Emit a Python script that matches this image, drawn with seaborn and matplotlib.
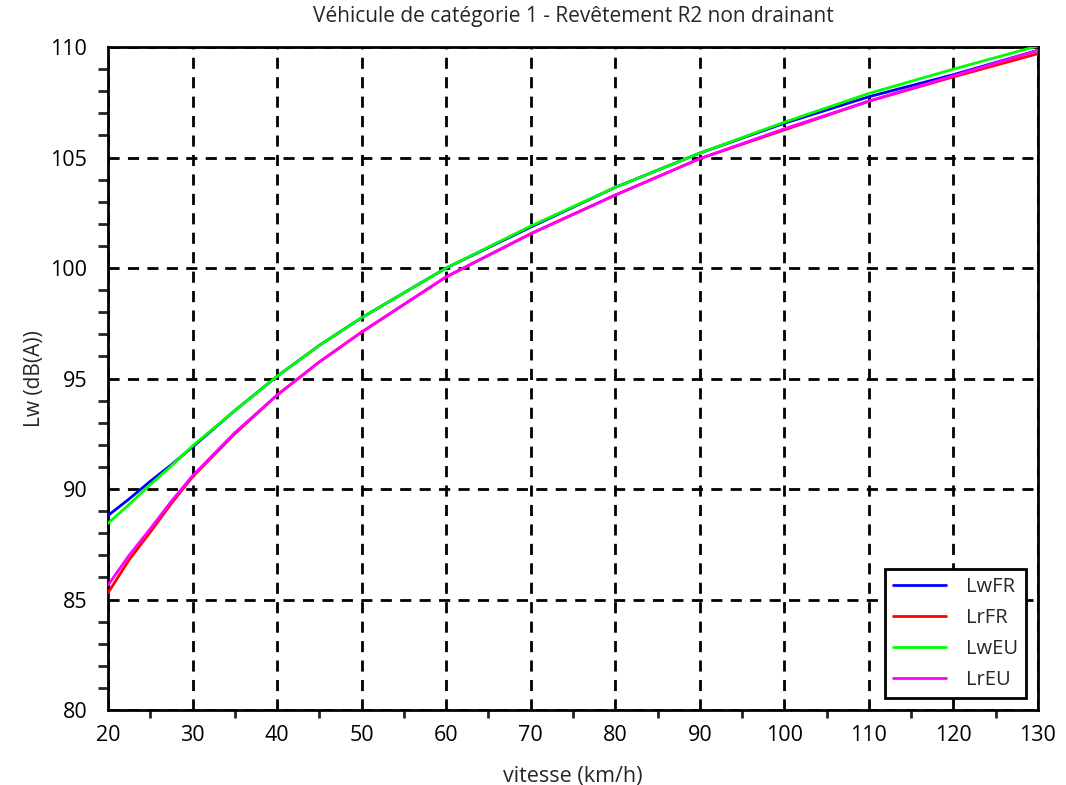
import matplotlib
matplotlib.use("Agg")
import matplotlib.pyplot as plt
from matplotlib.ticker import MultipleLocator
import seaborn as sns
import pandas as pd

# vitesse (km/h)
vitesse = [20, 22.5, 25, 27.5, 30, 35, 40, 45, 50, 60, 70, 80, 90, 100, 110, 120, 130]

# niveaux (dB(A))
lw_fr = [88.8, 89.55, 90.35, 91.1, 91.9, 93.55, 95.1, 96.5, 97.75, 100.0, 101.85, 103.65, 105.2, 106.55, 107.75, 108.75, 109.85]
lr_fr = [85.3, 86.8, 88.05, 89.35, 90.55, 92.5, 94.25, 95.75, 97.1, 99.6, 101.55, 103.3, 104.95, 106.25, 107.55, 108.65, 109.7]
lw_eu = [88.45, 89.3, 90.2, 91.05, 91.95, 93.55, 95.1, 96.5, 97.75, 100.0, 101.9, 103.65, 105.2, 106.6, 107.9, 109.0, 110.05]
lr_eu = [85.65, 87.0, 88.2, 89.45, 90.6, 92.55, 94.25, 95.75, 97.1, 99.6, 101.55, 103.3, 104.95, 106.3, 107.55, 108.7, 109.85]

series = {"LwFR": lw_fr, "LrFR": lr_fr, "LwEU": lw_eu, "LrEU": lr_eu}
couleurs = {"LwFR": "#0000ff", "LrFR": "#ff0000", "LwEU": "#00ff00", "LrEU": "#ff00ff"}

df = pd.DataFrame([
    {"vitesse": v, "Lw": y, "courbe": nom}
    for nom, vals in series.items()
    for v, y in zip(vitesse, vals)
])

sns.set_style("white")
plt.rcParams['font.family'] = ['Open Sans', 'DejaVu Sans']

fig = plt.figure(figsize=(10.66, 7.85), dpi=100)
ax = fig.add_axes([0.1013, 0.0955, 0.8724, 0.8446])

sns.lineplot(data=df, x="vitesse", y="Lw", hue="courbe", palette=couleurs,
             linewidth=2, ax=ax, zorder=3)

ax.set_xlim(20, 130)
ax.set_ylim(80, 110)
ax.xaxis.set_major_locator(MultipleLocator(10))
ax.xaxis.set_minor_locator(MultipleLocator(5))
ax.yaxis.set_major_locator(MultipleLocator(5))
ax.yaxis.set_minor_locator(MultipleLocator(1))

ax.grid(True, which="major", color="black", linestyle=(0, (4, 3)), linewidth=2)
for s in ax.spines.values():
    s.set_color("black")
    s.set_linewidth(2)

ax.tick_params(axis="x", which="major", direction="inout", length=16, width=2, labelsize=15.5, pad=3, colors="black")
ax.tick_params(axis="x", which="minor", direction="out", length=6, width=2, bottom=True)
ax.tick_params(axis="y", which="major", direction="out", length=12, width=2, labelsize=15.5, pad=3, colors="black")
ax.tick_params(axis="y", which="minor", direction="out", length=7, width=2, left=True)

ax.set_xlabel("vitesse (km/h)", fontsize=15.5, labelpad=14)
ax.set_ylabel("Lw (dB(A))", fontsize=15, labelpad=4)
ax.set_title("Véhicule de catégorie 1 - Revêtement R2 non drainant", fontsize=15, pad=18)

leg = ax.legend(loc="lower right", fontsize=14.5, frameon=True, fancybox=False,
                handlelength=2.6, borderaxespad=0.6, labelspacing=0.55, handletextpad=1.0)
leg.get_frame().set_edgecolor("black")
leg.get_frame().set_linewidth(2)
leg.get_frame().set_alpha(1)

fig.savefig("out.png", dpi=100)
